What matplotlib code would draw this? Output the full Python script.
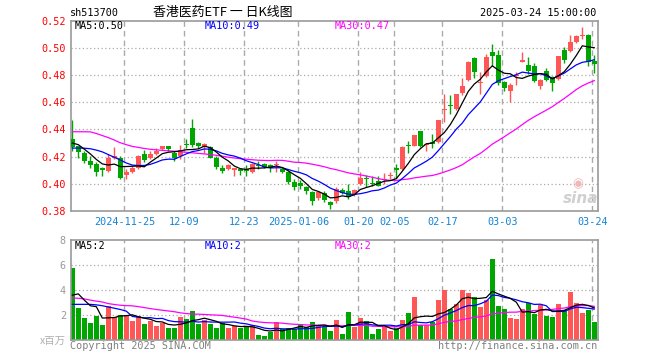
import numpy as np
import pandas as pd
import matplotlib
matplotlib.use('Agg')
import matplotlib.pyplot as plt

opens = [0.433, 0.4276, 0.4224, 0.417, 0.4144, 0.4112, 0.4095, 0.4193, 0.4193, 0.4063,
         0.4088, 0.412, 0.4222, 0.4188, 0.4217, 0.4259, 0.428, 0.4224, 0.4205, 0.4295,
         0.441, 0.4297, 0.4273, 0.4268, 0.419, 0.4115, 0.4107, 0.4105, 0.4112, 0.4112,
         0.409, 0.4141, 0.4144, 0.4141, 0.4137, 0.4112, 0.4088, 0.4015, 0.4005, 0.3973,
         0.3937, 0.3893, 0.3932, 0.3868, 0.387, 0.3953, 0.3946, 0.3916, 0.3995, 0.4045,
         0.4004, 0.402, 0.4025, 0.4058, 0.4112, 0.4107, 0.4281, 0.4278, 0.4389, 0.4283,
         0.4302, 0.4305, 0.4546, 0.4579, 0.4553, 0.4665, 0.4765, 0.4926, 0.4744, 0.4792,
         0.4973, 0.4951, 0.4746, 0.4682, 0.479, 0.4895, 0.4877, 0.4868, 0.4718, 0.4828,
         0.4788, 0.4774, 0.4988, 0.4975, 0.504, 0.5088, 0.5097, 0.4902]
highs = [0.447, 0.428, 0.424, 0.4205, 0.416, 0.4124, 0.4222, 0.427, 0.4205, 0.4107,
         0.4132, 0.421, 0.4246, 0.4241, 0.4266, 0.428, 0.428, 0.4241, 0.4285, 0.4327,
         0.4474, 0.4307, 0.43, 0.4278, 0.4202, 0.4137, 0.4144, 0.4112, 0.4117, 0.414,
         0.4156, 0.4168, 0.4151, 0.4146, 0.4168, 0.412, 0.4095, 0.4034, 0.403, 0.3985,
         0.3949, 0.3949, 0.3949, 0.3876, 0.3973, 0.3966, 0.3998, 0.3961, 0.4085, 0.4066,
         0.4056, 0.4055, 0.408, 0.4088, 0.4144, 0.4276, 0.4315, 0.436, 0.4391, 0.4302,
         0.4363, 0.447, 0.4661, 0.4657, 0.466, 0.478, 0.4902, 0.4935, 0.482, 0.4958,
         0.503, 0.4981, 0.4755, 0.4743, 0.4826, 0.497, 0.4935, 0.489, 0.4774, 0.485,
         0.4793, 0.4941, 0.5005, 0.5095, 0.5097, 0.515, 0.51, 0.4948]
lows = [0.424, 0.419, 0.415, 0.412, 0.406, 0.406, 0.4088, 0.4185, 0.4034, 0.4034,
        0.4076, 0.4107, 0.4163, 0.418, 0.4212, 0.4249, 0.4241, 0.4168, 0.418, 0.4266,
        0.427, 0.4266, 0.423, 0.419, 0.4107, 0.4076, 0.4102, 0.4056, 0.4066, 0.406,
        0.4083, 0.4107, 0.412, 0.4088, 0.4088, 0.4083, 0.3998, 0.3956, 0.3961, 0.3924,
        0.3846, 0.388, 0.3863, 0.3815, 0.3859, 0.3924, 0.3888, 0.3911, 0.3993, 0.3975,
        0.3982, 0.3982, 0.3998, 0.4034, 0.4046, 0.4102, 0.4229, 0.4275, 0.4273, 0.4241,
        0.4265, 0.4297, 0.4452, 0.4517, 0.4545, 0.4651, 0.4755, 0.478, 0.4664, 0.4784,
        0.4865, 0.473, 0.468, 0.4602, 0.4728, 0.4895, 0.4805, 0.475, 0.4694, 0.4755,
        0.4682, 0.4763, 0.489, 0.4972, 0.5035, 0.5063, 0.4865, 0.4815]
closes = [0.427, 0.4234, 0.4168, 0.4137, 0.4088, 0.4105, 0.4193, 0.4202, 0.4046, 0.409,
          0.4115, 0.4202, 0.4173, 0.4217, 0.4241, 0.4276, 0.4254, 0.4193, 0.4246, 0.4285,
          0.4284, 0.4276, 0.4295, 0.419, 0.4124, 0.4095, 0.4137, 0.4108, 0.4093, 0.4095,
          0.4146, 0.4132, 0.4122, 0.4115, 0.414, 0.409, 0.401, 0.3978, 0.3985, 0.3944,
          0.3876, 0.3937, 0.388, 0.3846, 0.396, 0.3935, 0.39, 0.3956, 0.404, 0.4033,
          0.4, 0.3987, 0.4034, 0.4063, 0.4105, 0.4272, 0.4276, 0.4358, 0.4279, 0.4288,
          0.4296, 0.4468, 0.4553, 0.4574, 0.4658, 0.4719, 0.4896, 0.4823, 0.4749, 0.4932,
          0.4939, 0.4743, 0.4704, 0.473, 0.4793, 0.4908, 0.4828, 0.4759, 0.4767, 0.4767,
          0.474, 0.4939, 0.4912, 0.504, 0.5088, 0.5098, 0.4898, 0.4883]
volumes = [5.78, 2.6, 1.75, 1.35, 1.9, 1.2, 2.7, 1.85, 2.0, 2.0,
           1.55, 1.95, 1.25, 1.55, 1.1, 1.4, 0.95, 1.0, 1.85, 1.65,
           2.35, 1.3, 1.6, 1.25, 1.0, 1.35, 1.0, 1.1, 0.95, 1.05,
           1.2, 0.4, 0.3, 0.65, 1.45, 0.85, 1.0, 0.85, 1.3, 1.05,
           1.45, 1.2, 1.05, 0.72, 1.6, 0.48, 2.25, 1.07, 1.76, 1.52,
           0.48, 0.88, 1.12, 0.72, 0.94, 1.6, 2.17, 3.45, 1.18, 1.2,
           1.44, 3.2, 4.0, 2.49, 2.89, 4.0, 3.77, 3.42, 2.65, 3.2,
           6.5, 2.73, 2.51, 1.76, 1.68, 2.49, 2.94, 2.09, 2.83, 1.95,
           1.84, 2.89, 2.4, 3.88, 2.97, 2.17, 2.43, 1.44]

ma5_head = [0.430, 0.4288, 0.4255, 0.422]
ma10_head = [0.4263, 0.4263, 0.4262, 0.4258, 0.4248, 0.4235, 0.4215, 0.4195, 0.4175]
ma30_head = [0.4383, 0.4383, 0.4383, 0.4382, 0.437, 0.4355, 0.434, 0.4322, 0.4302, 0.4288,
             0.4275, 0.4268, 0.426, 0.4254, 0.425, 0.4246, 0.4243, 0.424, 0.4236, 0.4232,
             0.4228, 0.4224, 0.422, 0.4215, 0.421, 0.4203, 0.4196, 0.419, 0.4185]
vma5_head = [3.6, 3.7, 3.2, 2.75]
vma10_head = [2.86, 2.86, 2.86, 2.86, 2.82, 2.75, 2.65, 2.55, 2.45]
vma30_head = [3.37, 3.35, 3.3, 3.2, 3.12, 3.05, 2.92, 2.85, 2.79, 2.76,
              2.74, 2.68, 2.6, 2.52, 2.45, 2.39, 2.33, 2.27, 2.18, 2.12,
              2.09, 2.07, 2.05, 2.02, 2.0, 1.97, 1.9, 1.83, 1.76]

date_tick_idx = [9, 19, 29, 38, 48, 54, 62, 72, 87]
date_tick_labels = ['2024-11-25', '12-09', '12-23', '2025-01-06', '01-20',
                    '02-05', '02-17', '03-03', '03-24']
price_ticks = [0.38, 0.40, 0.42, 0.44, 0.46, 0.48, 0.50, 0.52]
vol_ticks = [2, 4, 6, 8]

title = '香港医药ETF 一 日K线图'
code = 'sh513700'
stamp = '2025-03-24 15:00:00'

RED = '#ff5656'
GREEN = '#00a600'
GRID = '#aaaaaa'
SPINE = '#999999'
MONO = 'DejaVu Sans Mono'
CJK = ['Noto Sans CJK SC', 'DejaVu Sans']


def moving_avg(vals, n, head):
    s = pd.Series(vals, dtype=float).rolling(n).mean().to_numpy()
    s[:len(head)] = head
    return s


def trunc2(val):
    return '%.2f' % (np.floor(val * 100 + 1e-6) / 100)


o = np.array(opens); h = np.array(highs); l = np.array(lows); c = np.array(closes)
v = np.array(volumes)
x = np.arange(len(c))
up = c >= o
colors = np.where(up, RED, GREEN)

ma5 = moving_avg(c, 5, ma5_head)
ma10 = moving_avg(c, 10, ma10_head)
ma30 = moving_avg(c, 30, ma30_head)
vma5 = moving_avg(v, 5, vma5_head)
vma10 = moving_avg(v, 10, vma10_head)
vma30 = moving_avg(v, 30, vma30_head)

W, H = 660, 360
fig = plt.figure(figsize=(W / 100, H / 100), dpi=100)
fig.patch.set_facecolor('white')

L, R = 70.7, 597.7
axp = fig.add_axes([L / W, 1 - 211 / H, (R - L) / W, (211 - 20.7) / H])
axv = fig.add_axes([L / W, 1 - 340 / H, (R - L) / W, (340 - 240.3) / H])

xlim = (-0.27, len(c) - 0.43)
grid_x = np.array(date_tick_idx) - 0.33

for ax in (axp, axv):
    ax.set_xlim(*xlim)
    for s in ax.spines.values():
        s.set_color(SPINE)
        s.set_linewidth(1.2)
    ax.tick_params(length=0)
    for gx in grid_x:
        ax.axvline(gx, color=GRID, lw=1.0, ls=(0, (4, 3)), zorder=0)

# price panel
axp.set_ylim(0.38, 0.52)
for gy in price_ticks[1:-1]:
    axp.axhline(gy, color=GRID, lw=0.9, ls=(0, (1, 2)), zorder=0)
axp.vlines(x, l, h, colors=colors, lw=1.0, zorder=2)
body_bottom = np.minimum(o, c)
body_h = np.maximum(np.abs(c - o), 0.0008)
axp.bar(x, body_h, bottom=body_bottom, width=0.8, color=colors, linewidth=0, zorder=3)
axp.plot(x, ma30, color='#ff00ff', lw=0.9, zorder=4)
axp.plot(x, ma10, color='#0000ff', lw=0.9, zorder=4)
axp.plot(x, ma5, color='#000000', lw=0.9, zorder=4)
axp.set_yticks(price_ticks)
axp.set_yticklabels(['%.2f' % t for t in price_ticks], color='#ff0000',
                    fontsize=7.3, family=MONO)
axp.tick_params(axis='y', pad=3.5)
axp.set_xticks(grid_x)
axp.set_xticklabels(date_tick_labels, color='#1283d8', fontsize=7.3, family=MONO)
axp.tick_params(axis='x', pad=4.5)

# volume panel
axv.set_ylim(0, 8)
for gy in vol_ticks[:-1]:
    axv.axhline(gy, color=GRID, lw=0.9, ls=(0, (1, 2)), zorder=0)
axv.bar(x, v, width=0.78, color=colors, linewidth=0, zorder=2)
axv.plot(x, vma30, color='#ff00ff', lw=0.9, zorder=4)
axv.plot(x, vma10, color='#0000ff', lw=0.9, zorder=4)
axv.plot(x, vma5, color='#000000', lw=0.9, zorder=4)
axv.set_yticks(vol_ticks)
axv.set_yticklabels([str(t) for t in vol_ticks], color='#999999', fontsize=7.3, family=MONO)
axv.tick_params(axis='y', pad=3.5)
axv.set_xticks([])


def ftext(px, py, s, **kw):
    fig.text(px / W, 1 - py / H, s, **kw)


ftext(70, 13.2, code, ha='left', va='center', fontsize=7.3, family=MONO, color='black')
ftext(222.5, 12.5, title, ha='center', va='center', fontsize=9.3, family=CJK, color='black')
ftext(596.7, 13.2, stamp, ha='right', va='center', fontsize=7.3, family=MONO, color='black')

ftext(75, 25.8, 'MA5:' + trunc2(ma5[-1]), ha='left', va='center', fontsize=7.3, family=MONO, color='black')
ftext(205, 25.8, 'MA10:' + trunc2(ma10[-1]), ha='left', va='center', fontsize=7.3, family=MONO, color='#0000ff')
ftext(335, 25.8, 'MA30:' + trunc2(ma30[-1]), ha='left', va='center', fontsize=7.3, family=MONO, color='#ff00ff')

ftext(75, 246, 'MA5:%d' % int(vma5[-1]), ha='left', va='center', fontsize=7.3, family=MONO, color='black')
ftext(205, 246, 'MA10:%d' % int(vma10[-1]), ha='left', va='center', fontsize=7.3, family=MONO, color='#0000ff')
ftext(335, 246, 'MA30:%d' % int(vma30[-1]), ha='left', va='center', fontsize=7.3, family=MONO, color='#ff00ff')

ftext(66, 340.5, 'x百万', ha='right', va='center', fontsize=7.5, family=CJK, color='#b0b0b0')
ftext(70, 345.7, 'Copyright 2025 SINA.COM', ha='left', va='center', fontsize=7.3, family=MONO, color='#808080')
ftext(597, 345.7, 'http://finance.sina.com.cn', ha='right', va='center', fontsize=7.3, family=MONO, color='#808080')

ftext(578, 184, '\u25c9', ha='center', va='center', fontsize=9, color='#f2b8b8')
ftext(581, 198, 'sina', ha='center', va='center', fontsize=11, fontweight='bold',
      style='italic', color='#d0d0d0')

fig.savefig('out.png', dpi=100, facecolor='white')
